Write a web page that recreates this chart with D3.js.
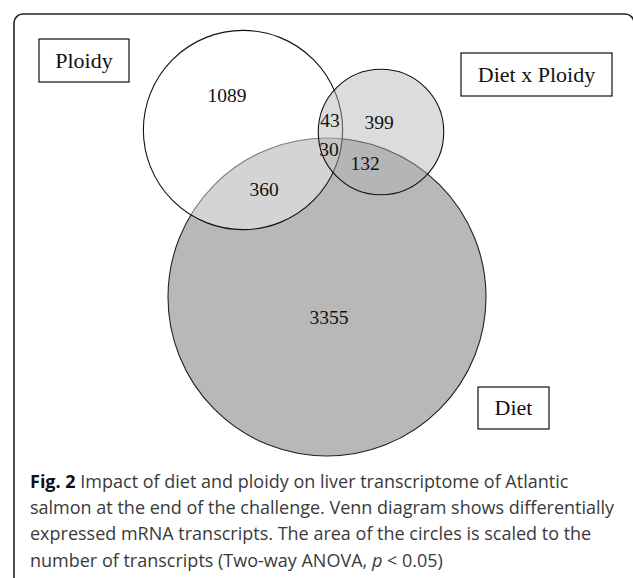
<!DOCTYPE html>
<html>
<head>
<meta charset="utf-8">
<script src="https://cdn.jsdelivr.net/npm/d3@7"></script>
<style>
  body { margin: 0; background: #fff; }
</style>
</head>
<body>
<div id="wrapper"></div>
<script>
// Data: sets and region counts
const setNames = ['Diet', 'Ploidy', 'Diet x Ploidy'];
const regionKeys = ['P', 'DxP', 'P&DxP', 'P&D&DxP', 'D&DxP', 'P&D', 'D'];
const regionCounts = [1089, 399, 43, 30, 132, 360, 3355];
const captionLines = [
  'Impact of diet and ploidy on liver transcriptome of Atlantic',
  'salmon at the end of the challenge. Venn diagram shows differentially',
  'expressed mRNA transcripts. The area of the circles is scaled to the',
  'number of transcripts (Two-way ANOVA, '
];

const countOf = (k) => regionCounts[regionKeys.indexOf(k)];
const setTotal = (s) =>
  d3.sum(regionKeys.filter((k) => k.split('&').includes(s)).map(countOf));

const width = 633;
const height = 578;

const svg = d3
  .select('#wrapper')
  .append('svg')
  .attr('width', width)
  .attr('height', height);

// Frame
svg
  .append('rect')
  .attr('x', 14)
  .attr('y', 14)
  .attr('width', 620)
  .attr('height', 580)
  .attr('rx', 9)
  .attr('fill', 'none')
  .attr('stroke', '#222')
  .attr('stroke-width', 1.6);

// Area-scaled radius
const totals = { D: setTotal('D'), P: setTotal('P'), DxP: setTotal('DxP') };
const rScale = d3
  .scaleSqrt()
  .domain([0, d3.max(Object.values(totals))])
  .range([0, 159]);

// Circle layout: drawn in order diet, ploidy, diet x ploidy
const circles = [
  { key: 'D', cx: 327, cy: 297, fill: '#b8b8b8', opacity: 1, stroke: '#222' },
  { key: 'P', cx: 243, cy: 130, fill: '#ffffff', opacity: 0.4, stroke: '#111' },
  { key: 'DxP', cx: 381, cy: 132, fill: '#b2b2b2', opacity: 0.45, stroke: '#111' }
];

svg
  .append('g')
  .selectAll('circle')
  .data(circles)
  .join('circle')
  .attr('cx', (d) => d.cx)
  .attr('cy', (d) => d.cy)
  .attr('r', (d) => rScale(totals[d.key]))
  .attr('fill', (d) => d.fill)
  .attr('fill-opacity', (d) => d.opacity)
  .attr('stroke', (d) => d.stroke)
  .attr('stroke-width', 1.1);

// Region labels
const labelPos = {
  P: [227, 102],
  DxP: [379, 129],
  'P&DxP': [330, 127],
  'P&D&DxP': [329, 156],
  'D&DxP': [365, 170],
  'P&D': [264, 196],
  D: [329, 324]
};

svg
  .append('g')
  .selectAll('text')
  .data(regionKeys)
  .join('text')
  .attr('x', (k) => labelPos[k][0])
  .attr('y', (k) => labelPos[k][1])
  .attr('text-anchor', 'middle')
  .style('font-family', '"Liberation Serif", "Times New Roman", serif')
  .style('font-size', '19.5px')
  .attr('fill', '#111')
  .text((k) => countOf(k));

// Set name boxes
const boxes = [
  { name: setNames[1], x: 39, y: 39, w: 90, h: 43 },
  { name: setNames[2], x: 461, y: 53, w: 151, h: 43 },
  { name: setNames[0], x: 478, y: 387, w: 71, h: 42 }
];

const boxG = svg
  .append('g')
  .selectAll('g')
  .data(boxes)
  .join('g');

boxG
  .append('rect')
  .attr('x', (d) => d.x)
  .attr('y', (d) => d.y)
  .attr('width', (d) => d.w)
  .attr('height', (d) => d.h)
  .attr('fill', '#fff')
  .attr('stroke', '#111')
  .attr('stroke-width', 1.2);

boxG
  .append('text')
  .attr('x', (d) => d.x + d.w / 2)
  .attr('y', (d) => d.y + d.h / 2 + 7)
  .attr('text-anchor', 'middle')
  .style('font-family', '"Liberation Serif", "Times New Roman", serif')
  .style('font-size', '22px')
  .attr('fill', '#111')
  .text((d) => d.name);

// Caption
const caption = svg
  .append('g')
  .style('font-family', '"Open Sans", sans-serif')
  .style('font-size', '18px')
  .attr('fill', '#3a3a3a');

captionLines.forEach((line, i) => {
  const t = caption
    .append('text')
    .attr('x', 30)
    .attr('y', 488 + i * 26.2);
  if (i === 0) {
    t.append('tspan')
      .style('font-weight', 'bold')
      .attr('fill', '#111')
      .text('Fig. 2 ');
  }
  t.append('tspan').text(line);
  if (i === captionLines.length - 1) {
    t.append('tspan').style('font-style', 'italic').text('p');
    t.append('tspan').text(' < 0.05)');
  }
});
</script>
</body>
</html>
